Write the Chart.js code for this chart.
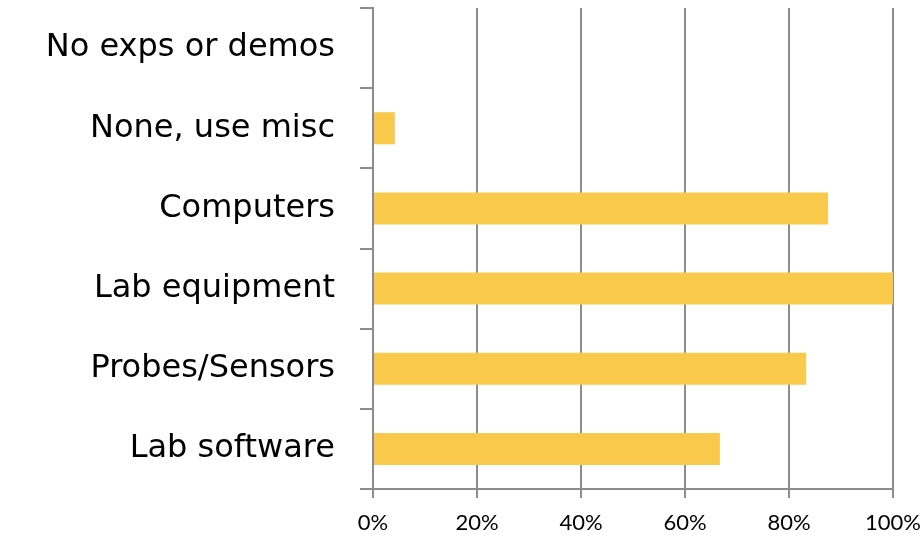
<!DOCTYPE html>
<html>
<head>
<meta charset="utf-8">
<script src="https://cdn.jsdelivr.net/npm/chart.js@4/dist/chart.umd.min.js"></script>
<style>
html,body{margin:0;padding:0;background:#fff;}
#wrap{width:922px;height:536px;position:relative;}
</style>
</head>
<body>
<div id="wrap"><canvas id="c" width="922" height="536"></canvas></div>
<script>
const categories = ["No exps or demos", "None, use misc", "Computers", "Lab equipment", "Probes/Sensors", "Lab software"];
const percentValues = [0, 4.2, 87.5, 100, 83.3, 66.7];
const xTickValues = [0, 20, 40, 60, 80, 100];

const labelFont = "'DejaVu Sans', sans-serif";
const tickFont = "'Lato', 'Open Sans', sans-serif";
const gridColor = '#8c8c8c';

function draw() {
  new Chart(document.getElementById('c'), {
    type: 'bar',
    data: {
      labels: categories,
      datasets: [{
        data: percentValues,
        backgroundColor: '#F8C94B',
        borderWidth: 0,
        categoryPercentage: 0.8,
        barPercentage: 0.5
      }]
    },
    options: {
      indexAxis: 'y',
      responsive: false,
      animation: false,
      layout: { padding: { top: 8, left: 0, right: 29, bottom: 0 } },
      plugins: { legend: { display: false }, tooltip: { enabled: false } },
      scales: {
        x: {
          min: 0, max: 100,
          afterBuildTicks: (s) => { s.ticks = xTickValues.map(v => ({ value: v })); },
          afterFit: (s) => { s.height = 47; s.paddingLeft = 0; s.paddingRight = 0; },
          border: { display: true, color: gridColor, width: 2 },
          grid: { color: gridColor, lineWidth: 2, tickLength: 9, drawOnChartArea: true },
          ticks: {
            color: '#000',
            font: { family: tickFont, size: 22 },
            padding: 12,
            maxRotation: 0,
            callback: (v) => v + '%'
          }
        },
        y: {
          afterFit: (s) => { s.width = 373; s.paddingTop = 0; s.paddingBottom = 0; },
          border: { display: true, color: gridColor, width: 2 },
          grid: { color: gridColor, lineWidth: 2, tickLength: 13, drawOnChartArea: false, offset: true },
          ticks: {
            color: '#000',
            font: { family: labelFont, size: 32 },
            padding: 25
          }
        }
      }
    }
  });
}

Promise.all([
  document.fonts.load("22px Lato"),
  document.fonts.load("32px 'DejaVu Sans'")
]).then(draw, draw);
</script>
</body>
</html>
